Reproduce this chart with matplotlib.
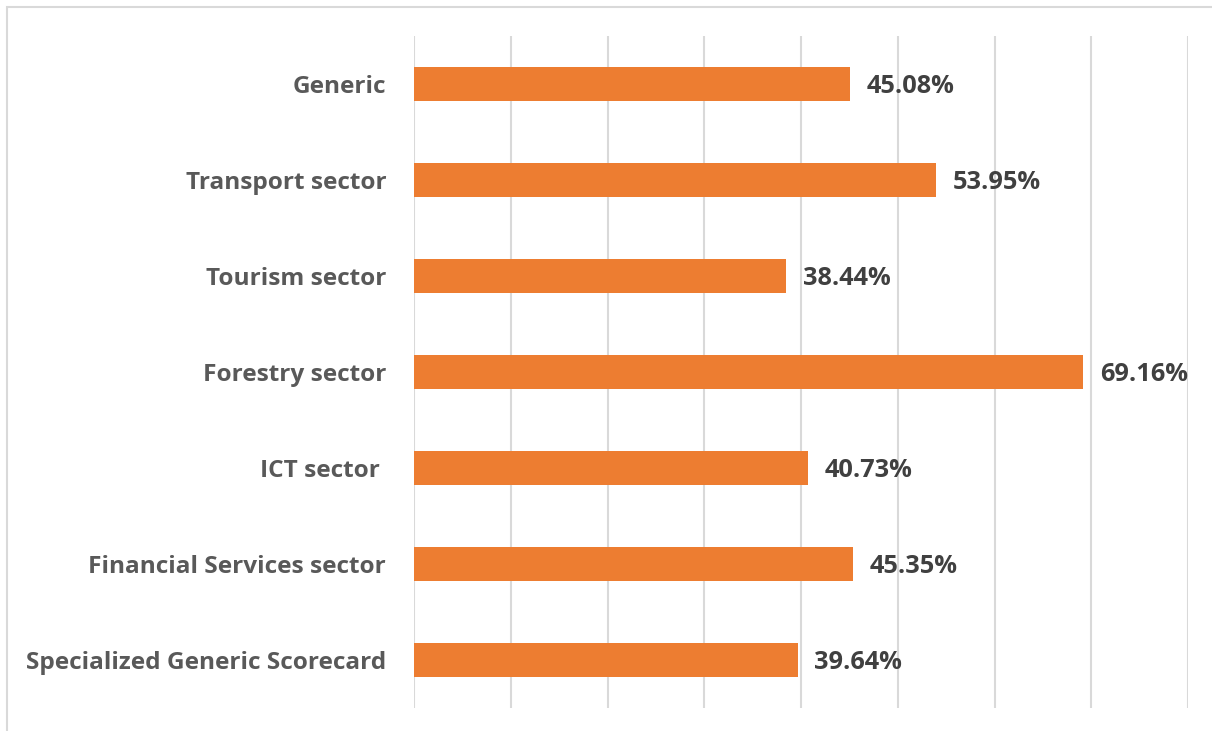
import matplotlib.pyplot as plt
from matplotlib.patches import Rectangle

categories = ["Generic", "Transport sector", "Tourism sector", "Forestry sector",
              "ICT sector ", "Financial Services sector", "Specialized Generic Scorecard"]
values = [45.08, 53.95, 38.44, 69.16, 40.73, 45.35, 39.64]
labels = ["45.08%", "53.95%", "38.44%", "69.16%", "40.73%", "45.35%", "39.64%"]

plt.rcParams['font.family'] = ['Open Sans', 'DejaVu Sans']

fig = plt.figure(figsize=(12.12, 7.31), dpi=100)
ax = fig.add_axes([414 / 1212, 1 - 708 / 731, (1188 - 414) / 1212, (708 - 36) / 731])

ypos = list(range(len(categories)))
ax.barh(ypos, values, height=0.35, color='#ED7D31')
for y, v, lab in zip(ypos, values, labels):
    ax.annotate(lab, (v, y), xytext=(12, -2), textcoords='offset points',
                va='center', ha='left', fontsize=18.3, fontweight='bold', color='#404040')

ax.set_xlim(0, 80)
ax.set_ylim(len(categories) - 0.5, -0.5)
ax.set_xticks(range(0, 81, 10))
ax.set_xticklabels([])
ax.set_yticks(ypos)
ax.set_yticklabels(categories, fontsize=17.6, fontweight='bold', color='#595959')
ax.tick_params(length=0, pad=20)
ax.grid(axis='x', color='#d9d9d9', linewidth=1.5)
ax.set_axisbelow(True)
for s in ax.spines.values():
    s.set_visible(False)

# outer chart border (only top/left visible in crop)
fig.patches.append(Rectangle((7 / 1212, -0.1), 1.2, 1 - 7 / 731 + 0.1, transform=fig.transFigure,
                             fill=False, edgecolor='#d9d9d9', linewidth=1.5))

fig.savefig("out.png", dpi=100)
